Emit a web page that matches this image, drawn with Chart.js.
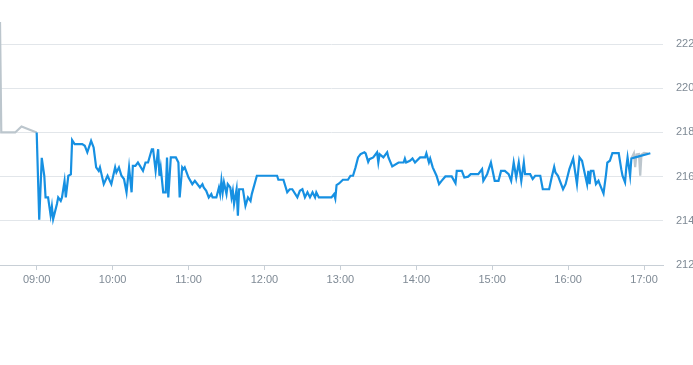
<!DOCTYPE html>
<html>
<head>
<meta charset="utf-8">
<script src="https://cdn.jsdelivr.net/npm/chart.js@4.4.1/dist/chart.umd.min.js"></script>
<style>
    html, body { margin: 0; padding: 0; background: #fff; overflow: hidden; }
    #wrap { position: relative; width: 693px; height: 365px; }
</style>
</head>
<body>
<div id="wrap"><canvas id="priceChart"></canvas></div>
<script>
// Axis ticks
const xTickLabels = ['09:00', '10:00', '11:00', '12:00', '13:00', '14:00', '15:00', '16:00', '17:00'];
const yTickValues = [212, 214, 216, 218, 220, 222];

// Pre-market (grey)
const preTimes = ['08:31', '08:32', '08:43', '08:48', '09:00'];
const prePrices = [223.0, 218.0, 218.0, 218.27, 218.0];

// Main session (blue)
const sessionTimes = [
    '09:00', '09:02', '09:04', '09:06', '09:07', '09:09', '09:11', '09:12', '09:13', '09:16', '09:17', '09:19', '09:20', '09:22', '09:23',
    '09:25', '09:27', '09:28', '09:30', '09:36', '09:38', '09:40', '09:43', '09:45', '09:47', '09:49', '09:50', '09:53', '09:56', '09:59',
    '10:02', '10:03', '10:05', '10:07', '10:09', '10:11', '10:13', '10:15', '10:16', '10:18', '10:20', '10:24', '10:26', '10:28', '10:31',
    '10:32', '10:34', '10:36', '10:37', '10:38', '10:40', '10:42', '10:43', '10:44', '10:46', '10:50', '10:52', '10:53', '10:55', '10:56', '10:57',
    '11:00', '11:03', '11:05', '11:09', '11:11', '11:12', '11:14', '11:16', '11:18', '11:19', '11:22', '11:24', '11:25', '11:26', '11:27',
    '11:28', '11:30', '11:31', '11:33', '11:34', '11:35', '11:36', '11:38', '11:39', '11:40', '11:43', '11:45', '11:47', '11:49', '11:50', '11:54',
    '12:10', '12:11', '12:15', '12:18', '12:20', '12:22', '12:26', '12:28', '12:30', '12:32', '12:34', '12:36', '12:38', '12:40', '12:41',
    '12:43', '12:53', '12:55', '12:56', '12:57', '12:59',
    '13:02', '13:06', '13:08', '13:10', '13:12', '13:14', '13:16', '13:17', '13:19', '13:20', '13:22', '13:23', '13:26', '13:29', '13:30',
    '13:31', '13:34', '13:37', '13:38', '13:41', '13:46', '13:50', '13:51', '13:52', '13:55', '13:57', '13:59',
    '14:03', '14:07', '14:08', '14:10', '14:11', '14:13', '14:16', '14:18', '14:20', '14:23', '14:28', '14:31', '14:32', '14:36', '14:38',
    '14:41', '14:43', '14:49', '14:52', '14:53', '14:56', '14:59',
    '15:02', '15:05', '15:07', '15:10', '15:13', '15:15', '15:17', '15:19', '15:21', '15:23', '15:25', '15:26', '15:30', '15:32', '15:34',
    '15:38', '15:40', '15:45', '15:47', '15:49', '15:50', '15:52', '15:56', '15:58',
    '16:01', '16:04', '16:07', '16:09', '16:11', '16:15', '16:16', '16:17', '16:18', '16:20', '16:22', '16:24', '16:25', '16:28', '16:30',
    '16:31', '16:33', '16:35', '16:40', '16:42', '16:43', '16:45', '16:46', '16:47', '16:49', '16:50', '16:53', '17:05'
];
const sessionPrices = [
    218.0, 214.05, 216.85, 216.04, 215.06, 215.06, 214.25, 214.65, 214.08, 214.76, 215.06, 214.9, 215.06, 215.8, 215.06,
    216.04, 216.1, 217.65, 217.47, 217.47, 217.4, 217.1, 217.62, 217.32, 216.42, 216.26, 216.42, 215.66, 216.04, 215.66,
    216.42, 216.19, 216.42, 216.04, 215.89, 215.29, 216.42, 215.29, 216.49, 216.49, 216.64, 216.26, 216.64, 216.64, 217.24,
    217.24, 216.26, 217.24, 216.04, 216.42, 215.29, 215.29, 216.87, 215.06, 216.87, 216.87, 216.64, 215.06, 216.42, 216.34, 216.42,
    215.96, 215.66, 215.81, 215.51, 215.66, 215.51, 215.36, 215.06, 215.21, 215.06, 215.06, 215.51, 215.21, 215.81, 215.29,
    215.74, 215.21, 215.66, 215.51, 215.06, 215.36, 214.76, 215.43, 214.23, 215.43, 215.43, 214.68, 215.06, 214.9, 215.21, 216.04,
    216.04, 215.86, 215.86, 215.29, 215.43, 215.43, 215.06, 215.36, 215.43, 215.06, 215.29, 215.06, 215.29, 215.06, 215.29,
    215.06, 215.06, 215.21, 215.01, 215.62, 215.69,
    215.86, 215.86, 216.04, 216.04, 216.42, 216.87, 217.02, 217.05, 217.1, 217.05, 216.67, 216.79, 216.87, 217.1, 216.64,
    217.02, 216.87, 217.1, 216.87, 216.46, 216.64, 216.64, 216.82, 216.64, 216.72, 216.82, 216.64,
    216.87, 216.87, 217.05, 216.64, 216.82, 216.42, 216.04, 215.66, 215.81, 216.01, 216.01, 215.7, 216.26, 216.26, 215.96,
    216.0, 216.11, 216.11, 216.34, 215.81, 216.11, 216.64,
    215.81, 215.81, 216.26, 216.26, 216.11, 215.81, 216.64, 215.96, 216.64, 215.81, 216.64, 216.11, 216.11, 215.89, 216.04,
    216.04, 215.43, 215.43, 215.96, 216.44, 216.19, 216.04, 215.43, 215.66,
    216.34, 216.82, 215.66, 216.87, 216.72, 215.66, 216.26, 215.66, 216.26, 216.26, 215.66, 215.81, 215.66, 215.24, 216.11,
    216.64, 216.72, 217.06, 217.06, 216.34, 216.04, 215.74, 216.42, 216.87, 216.04, 216.82, 216.87, 217.06
];

// After hours (grey)
const postTimes = ['16:50', '16:52', '16:53', '16:54', '16:56', '16:57', '16:58', '17:00', '17:03'];
const postPrices = [216.82, 217.06, 216.43, 217.0, 217.02, 216.04, 217.0, 217.08, 217.06];

function toMinutes(hhmm) {
    const parts = hhmm.split(':');
    return parseInt(parts[0]) * 60 + parseInt(parts[1]);
}

function toLabel(mins) {
    const h = Math.floor(mins / 60);
    const m = Math.round(mins % 60);
    return String(h).padStart(2, '0') + ':' + String(m).padStart(2, '0');
}

function points(times, prices) {
    return times.map(function(t, i) {
        return { x: toMinutes(t), y: prices[i] };
    });
}

const labelColor = '#7f8a95';
const gridColor = '#e2e6ea';
const axisColor = '#c8cfd6';
const blue = '#1690e2';
const grey = '#bcc6cd';

const ctx = document.getElementById('priceChart').getContext('2d');
new Chart(ctx, {
    type: 'line',
    data: {
        datasets: [
            {
                data: points(sessionTimes, sessionPrices),
                borderColor: blue,
                borderWidth: 2.2,
                pointRadius: 0,
                tension: 0,
                fill: false
            },
            {
                data: points(preTimes, prePrices),
                borderColor: grey,
                borderWidth: 2.2,
                pointRadius: 0,
                tension: 0,
                fill: false
            },
            {
                data: points(postTimes, postPrices),
                borderColor: grey,
                borderWidth: 2.2,
                pointRadius: 0,
                tension: 0,
                fill: false
            }
        ]
    },
    options: {
        responsive: true,
        maintainAspectRatio: false,
        animation: false,
        layout: {
            padding: { top: 22, bottom: 78, left: 0, right: 0 }
        },
        plugins: {
            legend: { display: false },
            tooltip: { enabled: false }
        },
        scales: {
            x: {
                type: 'linear',
                min: toMinutes('08:31'),
                max: toMinutes('17:15'),
                afterBuildTicks: function(scale) {
                    scale.ticks = xTickLabels.map(function(l) { return { value: toMinutes(l) }; });
                },
                afterFit: function(scale) {
                    scale.height = 22;
                },
                ticks: {
                    color: labelColor,
                    font: { family: 'Liberation Sans, Arial, sans-serif', size: 11 },
                    padding: 3,
                    maxRotation: 0,
                    autoSkip: false,
                    callback: function(value) { return toLabel(value); }
                },
                grid: {
                    drawOnChartArea: false,
                    drawTicks: true,
                    tickLength: 5,
                    color: axisColor
                },
                border: { display: true, color: axisColor }
            },
            y: {
                position: 'right',
                min: 212,
                max: 223,
                afterBuildTicks: function(scale) {
                    scale.ticks = yTickValues.map(function(v) { return { value: v }; });
                },
                afterFit: function(scale) {
                    scale.width = 30;
                },
                ticks: {
                    color: labelColor,
                    font: { family: 'Liberation Sans, Arial, sans-serif', size: 11 },
                    padding: 13
                },
                grid: {
                    color: gridColor,
                    drawTicks: false
                },
                border: { display: false }
            }
        }
    }
});
</script>
</body>
</html>
